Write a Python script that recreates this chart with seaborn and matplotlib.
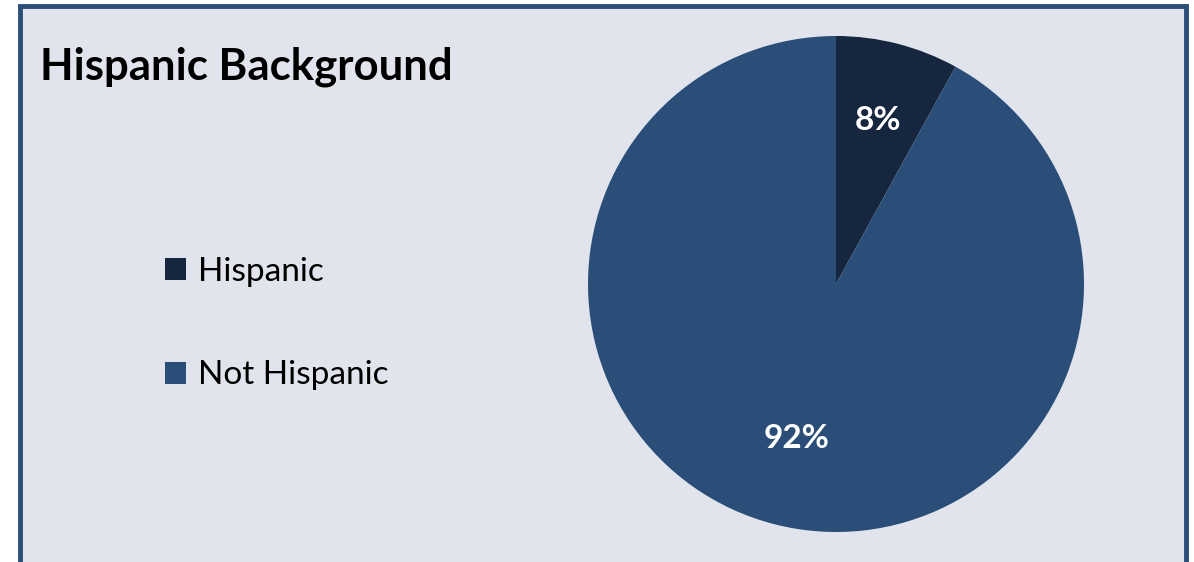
import matplotlib
matplotlib.use("Agg")
import matplotlib.pyplot as plt
import seaborn as sns
import numpy as np
from matplotlib.patches import Rectangle

# 数据
categories = ["Hispanic", "Not Hispanic"]
shares = [8, 92]
pct_labels = ["8%", "92%"]
title = "Hispanic Background"

sns.set_style("white")
plt.rcParams['font.family'] = ['Lato', 'DejaVu Sans']

colors = sns.color_palette(["#16263f", "#2a4e77"])
bg = "#e1e4ed"
edge = "#2a4e77"

W, H = 1194, 562
fig = plt.figure(figsize=(W / 100, H / 100), dpi=100)
fig.patch.set_facecolor("white")

# 外框（放在最底层）
frame = Rectangle((20 / W, -0.05), 1166 / W, 1.05 - 6 / H, transform=fig.transFigure,
                  facecolor=bg, edgecolor=edge, linewidth=3.5, zorder=-5)
fig.patches.append(frame)

# 饼图
cx, cy, r = 836, 284, 248
ax = fig.add_axes([(cx - r) / W, (H - cy - r) / H, 2 * r / W, 2 * r / H])
ax.set_zorder(2)
ax.set_facecolor("none")
wedges, _ = ax.pie(shares, colors=colors, startangle=90, counterclock=False,
                   wedgeprops=dict(linewidth=0), radius=1)
ax.set_xlim(-1, 1)
ax.set_ylim(-1, 1)
ax.set_aspect("equal")
ax.axis("off")

# 百分比标签（Excel 的位置略有不同，按扇区分别给距离）
label_dist = [0.68, 0.645]
for w, lab, d in zip(wedges, pct_labels, label_dist):
    mid = np.deg2rad((w.theta1 + w.theta2) / 2)
    ax.text(d * np.cos(mid), d * np.sin(mid), lab, ha="center", va="center",
            color="white", fontsize=24, fontweight="bold")

fig.text(40 / W, 1 - 67 / H, title, fontsize=31.5, fontweight="bold", color="black",
         ha="left", va="center")

leg = fig.legend(wedges, categories, loc="upper left",
                 bbox_to_anchor=(135 / W, 1 - 227 / H), frameon=False,
                 fontsize=24, handlelength=0.63, handleheight=0.63,
                 handletextpad=0.35, labelspacing=2.2, labelcolor="black")

fig.savefig("out.png", dpi=100, facecolor=fig.get_facecolor())
